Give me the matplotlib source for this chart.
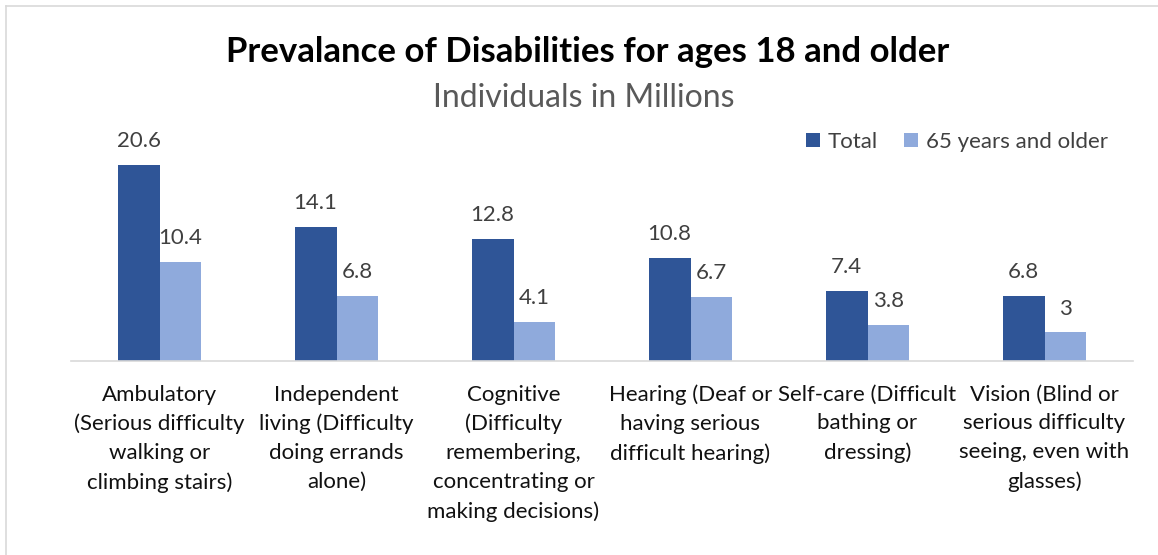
import matplotlib.pyplot as plt
import numpy as np
from matplotlib.lines import Line2D

categories = [
    "Ambulatory\n(Serious difficulty\nwalking or\nclimbing stairs)",
    "Independent\nliving (Difficulty\ndoing errands\nalone)",
    "Cognitive\n(Difficulty\nremembering,\nconcentrating or\nmaking decisions)",
    "Hearing (Deaf or\nhaving serious\ndifficult hearing)",
    "Self-care (Difficult\nbathing or\ndressing)",
    "Vision (Blind or\nserious difficulty\nseeing, even with\nglasses)",
]
total = [20.6, 14.1, 12.8, 10.8, 7.4, 6.8]
older = [10.4, 6.8, 4.1, 6.7, 3.8, 3]
total_labels = ["20.6", "14.1", "12.8", "10.8", "7.4", "6.8"]
older_labels = ["10.4", "6.8", "4.1", "6.7", "3.8", "3"]

plt.rcParams['font.family'] = ['Lato', 'DejaVu Sans']

W, H = 1158, 555
fig = plt.figure(figsize=(W / 100, H / 100), dpi=100)

# light frame (top and left edges visible)
fig.add_artist(Line2D([6 / W, 1], [1 - 6 / H, 1 - 6 / H], transform=fig.transFigure,
                      color='#D9D9D9', linewidth=1.2))
fig.add_artist(Line2D([6 / W, 6 / W], [0, 1 - 6 / H], transform=fig.transFigure,
                      color='#D9D9D9', linewidth=1.2))

ax = fig.add_axes([71 / W, 1 - 361 / H, 1062 / W, 231 / H])
x = np.arange(len(categories))
w = 0.237
b1 = ax.bar(x - w / 2, total, w, color='#2F5597', label='Total')
b2 = ax.bar(x + w / 2, older, w, color='#8FAADC', label='65 years and older')

for bars, labs in ((b1, total_labels), (b2, older_labels)):
    for bar, lab in zip(bars, labs):
        ax.annotate(lab, (bar.get_x() + bar.get_width() / 2, bar.get_height()),
                    xytext=(0, 10), textcoords='offset points', ha='center', va='bottom',
                    fontsize=16, color='#404040')

ax.set_xlim(-0.5, len(categories) - 0.5)
ax.set_ylim(0, 24.29)
ax.set_xticks(x)
ax.set_xticklabels(categories, fontsize=16, color='#111111', linespacing=1.55, va='top')
ax.tick_params(axis='x', length=0, pad=17)
ax.set_yticks([])
for s in ['top', 'right', 'left']:
    ax.spines[s].set_visible(False)
ax.spines['bottom'].set_color('#D9D9D9')
ax.spines['bottom'].set_linewidth(1.2)

fig.text(588 / W, 1 - 52 / H, "Prevalance of Disabilities for ages 18 and older",
         ha='center', va='center', fontsize=25, fontweight='bold', color='black')
fig.text(584 / W, 1 - 98 / H, "Individuals in Millions",
         ha='center', va='center', fontsize=23, color='#595959')

fig.legend(loc='center', bbox_to_anchor=(957 / W, 1 - 142 / H), ncol=2, frameon=False,
           fontsize=16, handlelength=0.6, handleheight=0.6, handletextpad=0.35,
           columnspacing=1.2, labelcolor='#404040')

fig.savefig('out.png', dpi=100)
